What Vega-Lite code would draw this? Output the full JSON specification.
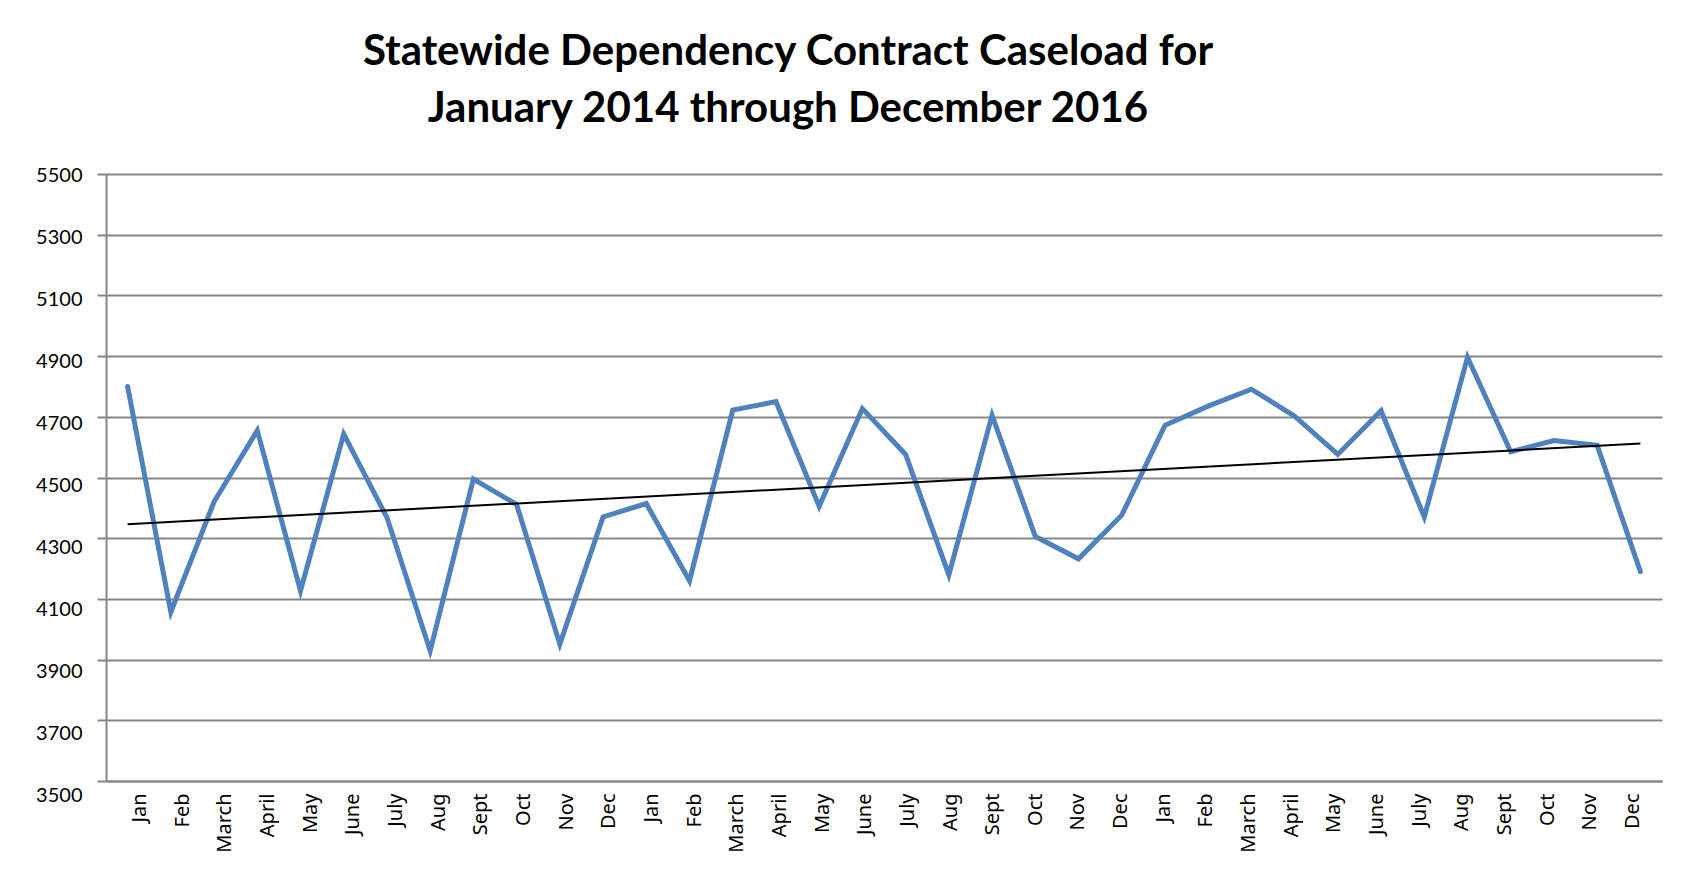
{
  "$schema": "https://vega.github.io/schema/vega-lite/v6.json",
  "width": 1556,
  "height": 607,
  "autosize": {"type": "none"},
  "padding": {"left": 106, "top": 174, "right": 27, "bottom": 103},
  "background": "white",
  "title": {
    "text": ["Statewide Dependency Contract Caseload for", "January 2014 through December 2016"],
    "font": "Lato",
    "fontSize": 42,
    "fontWeight": "bold",
    "color": "black",
    "lineHeight": 57,
    "anchor": "middle",
    "dx": -96,
    "offset": 1,
    "baseline": "alphabetic"
  },
  "data": {
    "values": [
      {"i": 1, "month": "Jan", "year": 2014, "caseload": 4800},
      {"i": 2, "month": "Feb", "year": 2014, "caseload": 4057},
      {"i": 3, "month": "March", "year": 2014, "caseload": 4420},
      {"i": 4, "month": "April", "year": 2014, "caseload": 4655},
      {"i": 5, "month": "May", "year": 2014, "caseload": 4127},
      {"i": 6, "month": "June", "year": 2014, "caseload": 4643},
      {"i": 7, "month": "July", "year": 2014, "caseload": 4368},
      {"i": 8, "month": "Aug", "year": 2014, "caseload": 3929},
      {"i": 9, "month": "Sept", "year": 2014, "caseload": 4495},
      {"i": 10, "month": "Oct", "year": 2014, "caseload": 4411},
      {"i": 11, "month": "Nov", "year": 2014, "caseload": 3951},
      {"i": 12, "month": "Dec", "year": 2014, "caseload": 4370},
      {"i": 13, "month": "Jan", "year": 2015, "caseload": 4414},
      {"i": 14, "month": "Feb", "year": 2015, "caseload": 4160},
      {"i": 15, "month": "March", "year": 2015, "caseload": 4722},
      {"i": 16, "month": "April", "year": 2015, "caseload": 4750},
      {"i": 17, "month": "May", "year": 2015, "caseload": 4405},
      {"i": 18, "month": "June", "year": 2015, "caseload": 4727},
      {"i": 19, "month": "July", "year": 2015, "caseload": 4576},
      {"i": 20, "month": "Aug", "year": 2015, "caseload": 4179},
      {"i": 21, "month": "Sept", "year": 2015, "caseload": 4705},
      {"i": 22, "month": "Oct", "year": 2015, "caseload": 4306},
      {"i": 23, "month": "Nov", "year": 2015, "caseload": 4232},
      {"i": 24, "month": "Dec", "year": 2015, "caseload": 4376},
      {"i": 25, "month": "Jan", "year": 2016, "caseload": 4672},
      {"i": 26, "month": "Feb", "year": 2016, "caseload": 4735},
      {"i": 27, "month": "March", "year": 2016, "caseload": 4791},
      {"i": 28, "month": "April", "year": 2016, "caseload": 4702},
      {"i": 29, "month": "May", "year": 2016, "caseload": 4576},
      {"i": 30, "month": "June", "year": 2016, "caseload": 4720},
      {"i": 31, "month": "July", "year": 2016, "caseload": 4370},
      {"i": 32, "month": "Aug", "year": 2016, "caseload": 4896},
      {"i": 33, "month": "Sept", "year": 2016, "caseload": 4585},
      {"i": 34, "month": "Oct", "year": 2016, "caseload": 4622},
      {"i": 35, "month": "Nov", "year": 2016, "caseload": 4606},
      {"i": 36, "month": "Dec", "year": 2016, "caseload": 4190}
    ]
  },
  "encoding": {
    "x": {
      "field": "i",
      "type": "ordinal",
      "axis": {
        "title": null,
        "labelAngle": 270,
        "labelAlign": "right",
        "labelBaseline": "middle",
        "labelExpr": "['Jan','Feb','March','April','May','June','July','Aug','Sept','Oct','Nov','Dec'][(datum.value - 1) % 12]",
        "labelFont": "Noto Sans",
        "labelFontSize": 20,
        "labelColor": "black",
        "labelPadding": 12,
        "labelOffset": {"expr": "12 - (datum.value - 1) * 0.57"},
        "ticks": false,
        "tickSize": 0,
        "grid": false,
        "domain": true,
        "domainColor": "#868686",
        "domainWidth": 2
      }
    },
    "y": {
      "field": "caseload",
      "type": "quantitative",
      "scale": {"domain": [3500, 5500], "nice": false, "zero": false},
      "axis": {
        "title": null,
        "format": "d",
        "values": [3500, 3700, 3900, 4100, 4300, 4500, 4700, 4900, 5100, 5300, 5500],
        "grid": true,
        "gridColor": "#868686",
        "gridWidth": 2,
        "domain": true,
        "domainColor": "#868686",
        "domainWidth": 2,
        "ticks": true,
        "tickSize": 9,
        "tickColor": "#868686",
        "tickWidth": 2,
        "labelFont": "Lato",
        "labelFontSize": 20,
        "labelColor": "black",
        "labelPadding": 15,
        "labelOffset": {"expr": "1 + (5500 - datum.value) * 0.0065"}
      }
    }
  },
  "layer": [
    {
      "mark": {"type": "line", "color": "#4F81BD", "strokeWidth": 5, "strokeCap": "round"}
    },
    {
      "transform": [{"regression": "caseload", "on": "i"}],
      "mark": {"type": "line", "color": "black", "strokeWidth": 2}
    }
  ],
  "config": {"view": {"stroke": null}}
}
